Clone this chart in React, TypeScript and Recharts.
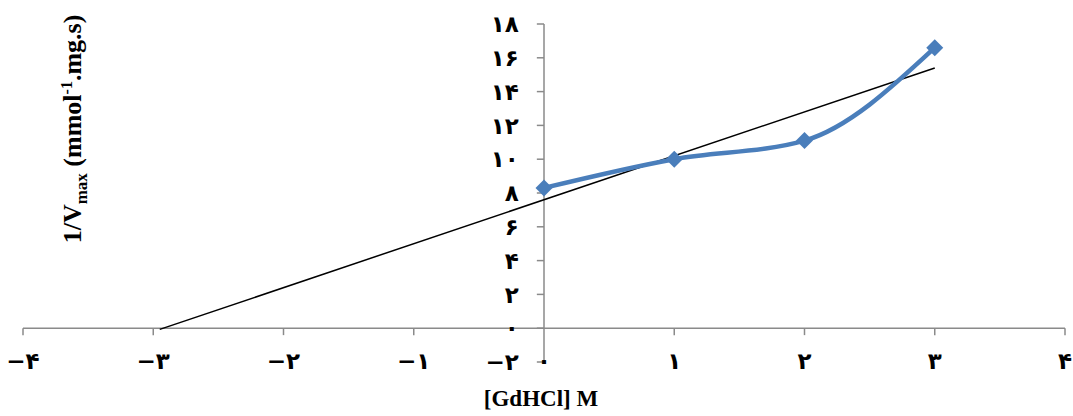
import { LineChart, Line, XAxis, YAxis, ReferenceLine } from 'recharts';

// measured points: GdHCl concentration (M) vs 1/Vmax
const concentration = [0, 1, 2, 3];
const inverseVmax = [8.3, 10, 11.1, 16.6];

// linear trend line end points, as drawn in the figure
const trendX = [-2.95, 3];
const trendY = [-0.07, 15.4];

const xTicks = [-4, -3, -2, -1, 0, 1, 2, 3, 4];
const xTickLabels = ['−۴', '−۳', '−۲', '−۱', '۰', '۱', '۲', '۳', '۴'];
const yTicks = [-2, 0, 2, 4, 6, 8, 10, 12, 14, 16, 18];
const yTickLabels = ['−۲', '۰', '۲', '۴', '۶', '۸', '۱۰', '۱۲', '۱۴', '۱۶', '۱۸'];

const points = concentration.map((x, i) => ({ x, y: inverseVmax[i] }));
const trend = trendX.map((x, i) => ({ x, y: trendY[i] }));

const AXIS = '#8a8a8a';
const BLUE = '#4A7EBB';
const TICK_FONT = "'DejaVu Sans', sans-serif";
const TITLE_FONT = "'Liberation Serif', serif";
const TICK_SIZE = 23;

function Diamond(props: any) {
  const { cx, cy } = props;
  if (cx == null || cy == null) return null;
  const r = 8.5;
  return (
    <polygon
      points={`${cx},${cy - r} ${cx + r},${cy} ${cx},${cy + r} ${cx - r},${cy}`}
      fill={BLUE}
    />
  );
}

function XTick(props: any) {
  const { x, y, payload } = props;
  const i = xTicks.indexOf(payload.value);
  return (
    <text
      x={x}
      y={y}
      dy={7}
      textAnchor="middle"
      fill="#000"
      fontSize={TICK_SIZE}
      fontWeight={700}
      fontFamily={TICK_FONT}
    >
      {xTickLabels[i]}
    </text>
  );
}

export default function App() {
  return (
    <div style={{ position: 'absolute', left: 0, top: 0, width: 1073, height: 416 }}>
      <LineChart
        width={1073}
        height={416}
        margin={{ top: 24, right: 8, left: 23, bottom: 0 }}
      >
        <XAxis
          type="number"
          dataKey="x"
          domain={[-4, 4]}
          ticks={xTicks}
          axisLine={false}
          tickLine={false}
          tickSize={0}
          tickMargin={0}
          height={54}
          tick={<XTick />}
          interval={0}
        />
        <YAxis type="number" domain={[-2, 18]} hide width={0} />

        {/* horizontal axis crossing at y = 0 */}
        <ReferenceLine
          segment={[{ x: -4, y: 0 }, { x: 4, y: 0 }]}
          stroke={AXIS}
          strokeWidth={1.5}
        />
        {xTicks
          .filter((v) => v !== 0)
          .map((v) => (
            <ReferenceLine
              key={`xt-${v}`}
              segment={[{ x: v, y: 0 }, { x: v, y: -0.41 }]}
              stroke={AXIS}
              strokeWidth={1.5}
            />
          ))}

        {/* vertical axis at x = 0 */}
        <ReferenceLine
          segment={[{ x: 0, y: -2 }, { x: 0, y: 18 }]}
          stroke={AXIS}
          strokeWidth={1.5}
        />
        {yTicks.map((v, i) => (
          <ReferenceLine
            key={`yt-${v}`}
            segment={[{ x: -0.055, y: v }, { x: 0, y: v }]}
            stroke={AXIS}
            strokeWidth={1.5}
            label={{
              value: yTickLabels[i],
              position: 'left',
              offset: 18,
              fill: '#000',
              fontSize: TICK_SIZE,
              fontWeight: 700,
              fontFamily: TICK_FONT,
            }}
          />
        ))}

        <Line
          data={trend}
          dataKey="y"
          type="linear"
          stroke="#000"
          strokeWidth={1.5}
          dot={false}
          activeDot={false}
          isAnimationActive={false}
        />
        <Line
          data={points}
          dataKey="y"
          type="monotone"
          stroke={BLUE}
          strokeWidth={4.5}
          dot={<Diamond />}
          activeDot={false}
          isAnimationActive={false}
        />
      </LineChart>

      <div
        style={{
          position: 'absolute',
          left: 75,
          top: 129,
          transform: 'translate(-50%, -50%) rotate(-90deg)',
          whiteSpace: 'nowrap',
          fontFamily: TITLE_FONT,
          fontWeight: 700,
          fontSize: 26,
          color: '#000',
        }}
      >
        1/V<sub style={{ fontSize: 17 }}>max</sub> (mmol<sup style={{ fontSize: 16 }}>-1</sup>.mg.s)
      </div>
      <div
        style={{
          position: 'absolute',
          left: 541,
          top: 399,
          transform: 'translate(-50%, -50%)',
          whiteSpace: 'nowrap',
          fontFamily: TITLE_FONT,
          fontWeight: 700,
          fontSize: 23,
          color: '#000',
        }}
      >
        [GdHCl] M
      </div>
    </div>
  );
}
